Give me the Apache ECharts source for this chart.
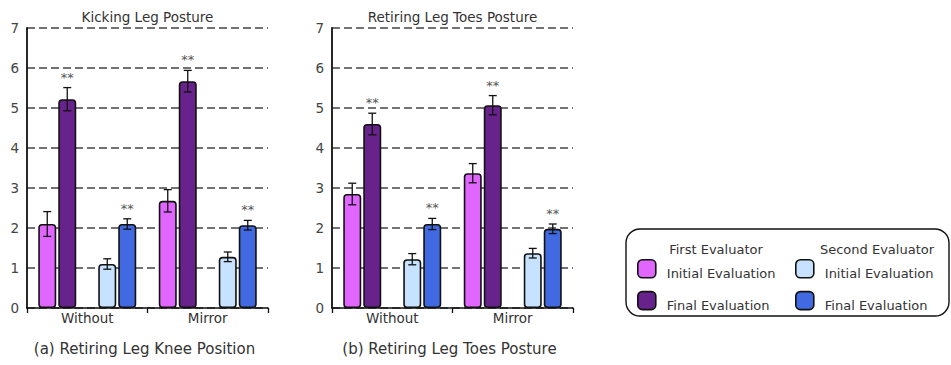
<!DOCTYPE html>
<html><head><meta charset="utf-8">
<script src="https://cdn.jsdelivr.net/npm/echarts@6/dist/echarts.min.js"></script>
<style>html,body{margin:0;padding:0;background:#fff}#c{width:951px;height:365px}</style>
</head><body><div id="c"></div>
<script>
// ---- data ----
const categories = ['Without', 'Mirror'];
const yTicks = [0, 1, 2, 3, 4, 5, 6, 7];
const seriesNames = ['First Initial', 'First Final', 'Second Initial', 'Second Final'];
const legendLabels = ['Initial Evaluation', 'Final Evaluation', 'Initial Evaluation', 'Final Evaluation'];
const evaluatorHeaders = ['First Evaluator', 'Second Evaluator'];
const seriesColors = ['#e066ff', '#68228b', '#c6e2ff', '#4169e1'];

// (a) Retiring Leg Knee Position — "Kicking Leg Posture"
const kneeFirstInitial = [2.10, 2.68];
const kneeFirstInitialErr = [0.31, 0.28];
const kneeFirstFinal = [5.22, 5.67];
const kneeFirstFinalErr = [0.29, 0.27];
const kneeSecondInitial = [1.10, 1.28];
const kneeSecondInitialErr = [0.13, 0.12];
const kneeSecondFinal = [2.10, 2.07];
const kneeSecondFinalErr = [0.13, 0.12];
const kneeSig = [[0, 0], [1, 1], [0, 0], [1, 1]];

// (b) Retiring Leg Toes Posture
const toesFirstInitial = [2.85, 3.37];
const toesFirstInitialErr = [0.27, 0.24];
const toesFirstFinal = [4.60, 5.07];
const toesFirstFinalErr = [0.27, 0.24];
const toesSecondInitial = [1.22, 1.37];
const toesSecondInitialErr = [0.14, 0.12];
const toesSecondFinal = [2.10, 1.98];
const toesSecondFinalErr = [0.14, 0.12];
const toesSig = [[0, 0], [1, 1], [0, 0], [1, 1]];

const panelTitles = ['Kicking Leg Posture', 'Retiring Leg Toes Posture'];
const panelCaptions = ['(a) Retiring Leg Knee Position', '(b) Retiring Leg Toes Posture'];

// ---- layout ----
const FONT = 'DejaVu Sans';
const TXT = '#333';
const BAR_W = 18, BAR_GAP_PX = 2;
const gridBoxes = [{left: 27, top: 28, width: 241, height: 280}, {left: 332, top: 28, width: 241, height: 280}];

const panels = [
  {means: [kneeFirstInitial, kneeFirstFinal, kneeSecondInitial, kneeSecondFinal],
   errs: [kneeFirstInitialErr, kneeFirstFinalErr, kneeSecondInitialErr, kneeSecondFinalErr], sig: kneeSig},
  {means: [toesFirstInitial, toesFirstFinal, toesSecondInitial, toesSecondFinal],
   errs: [toesFirstInitialErr, toesFirstFinalErr, toesSecondInitialErr, toesSecondFinalErr], sig: toesSig}
];

const slotOf = [0, 1, 3, 4]; // slot 2 is an empty spacer
const series = [];
panels.forEach((p, pi) => {
  for (let s = 0; s < 5; s++) {
    const k = slotOf.indexOf(s);
    const base = {
      type: 'bar', xAxisIndex: pi, yAxisIndex: pi, barWidth: BAR_W,
      barGap: (BAR_GAP_PX / BAR_W * 100).toFixed(2) + '%', z: 2
    };
    if (k < 0) {
      series.push(Object.assign(base, {name: 'spacer', data: categories.map(() => '-'), silent: true}));
    } else {
      series.push(Object.assign(base, {
        name: seriesNames[k], data: p.means[k],
        itemStyle: {color: seriesColors[k], borderColor: '#111', borderWidth: 1.6, borderRadius: 3}
      }));
    }
  }
  for (let k = 0; k < 4; k++) {
    const off = (slotOf[k] - 2) * (BAR_W + BAR_GAP_PX);
    series.push({
      type: 'custom', xAxisIndex: pi, yAxisIndex: pi, z: 5, silent: true,
      itemStyle: {color: '#555'},
      data: categories.map((c, i) => [i, p.means[k][i], p.errs[k][i], p.sig[k][i]]),
      encode: {x: 0, y: 1},
      renderItem: (params, api) => {
        const cat = api.value(0), v = api.value(1), e = api.value(2), sg = api.value(3);
        const t = api.coord([cat, v + e]), b = api.coord([cat, v - e]);
        const x = t[0] + off, hw = 4;
        const st = {stroke: '#111', lineWidth: 1.3};
        const ch = [
          {type: 'line', shape: {x1: x, y1: t[1], x2: x, y2: b[1]}, style: st},
          {type: 'line', shape: {x1: x - hw, y1: t[1], x2: x + hw, y2: t[1]}, style: st},
          {type: 'line', shape: {x1: x - hw, y1: b[1], x2: x + hw, y2: b[1]}, style: st}
        ];
        if (sg) ch.push({type: 'text', style: {text: '**', x: x, y: t[1] - 4, align: 'center', verticalAlign: 'bottom',
          fill: '#555', font: '13px ' + FONT}});
        return {type: 'group', children: ch};
      }
    });
  }
});

const graphic = [];
panelTitles.forEach((t, i) => {
  const g = gridBoxes[i];
  graphic.push({type: 'text', x: g.left + g.width / 2, y: 17,
    style: {text: t, align: 'center', verticalAlign: 'middle', fill: TXT, font: '13.5px ' + FONT}});
  graphic.push({type: 'text', x: g.left + g.width / 2 - 3, y: 349,
    style: {text: panelCaptions[i], align: 'center', verticalAlign: 'middle', fill: TXT, font: '15px ' + FONT}});
});
graphic.push({type: 'rect', shape: {x: 626, y: 229, width: 323, height: 87, r: 14},
  style: {fill: 'none', stroke: '#111', lineWidth: 1.4}});
graphic.push({type: 'text', x: 716, y: 249, style: {text: evaluatorHeaders[0], align: 'center', verticalAlign: 'middle', fill: TXT, font: '13px ' + FONT}});
graphic.push({type: 'text', x: 877, y: 249, style: {text: evaluatorHeaders[1], align: 'center', verticalAlign: 'middle', fill: TXT, font: '13px ' + FONT}});

const legendCommon = {
  orient: 'vertical', itemWidth: 18, itemHeight: 18, itemGap: 11, icon: 'roundRect',
  selectedMode: false, padding: 0,
  itemStyle: {borderColor: '#111', borderWidth: 1.6},
  textStyle: {fontFamily: FONT, fontSize: 13, color: TXT, padding: [0, 0, 0, 6],
    rich: {t: {fontFamily: FONT, fontSize: 13, color: TXT, padding: [9, 0, 0, 0]}}},
  formatter: name => '{t|' + legendLabels[seriesNames.indexOf(name)] + '}'
};

const option = {
  animation: false,
  textStyle: {fontFamily: FONT},
  grid: gridBoxes.map(g => Object.assign({containLabel: false}, g)),
  xAxis: gridBoxes.map((g, i) => ({
    type: 'category', gridIndex: i, data: categories,
    axisLine: {lineStyle: {color: '#111', width: 1.5}},
    axisTick: {show: true, length: 5, lineStyle: {color: '#111', width: 1.3}},
    axisLabel: {fontSize: 13.5, color: TXT, margin: 3, fontFamily: FONT}
  })),
  yAxis: gridBoxes.map((g, i) => ({
    type: 'value', gridIndex: i, min: yTicks[0], max: yTicks[yTicks.length - 1], interval: 1,
    axisLine: {show: true, lineStyle: {color: '#111', width: 1.8}},
    axisTick: {show: false},
    axisLabel: {fontSize: 13.5, color: '#444', margin: 8, fontFamily: FONT},
    splitLine: {show: true, lineStyle: {type: [8, 4], color: '#444', width: 1.5}}
  })),
  legend: [
    Object.assign({left: 637, top: 259, data: seriesNames.slice(0, 2)}, legendCommon),
    Object.assign({left: 795, top: 259, data: seriesNames.slice(2, 4)}, legendCommon)
  ],
  graphic: graphic,
  series: series
};

const chart = echarts.init(document.getElementById('c'), null, {renderer: 'svg'});
chart.setOption(option);
</script>
</body></html>
